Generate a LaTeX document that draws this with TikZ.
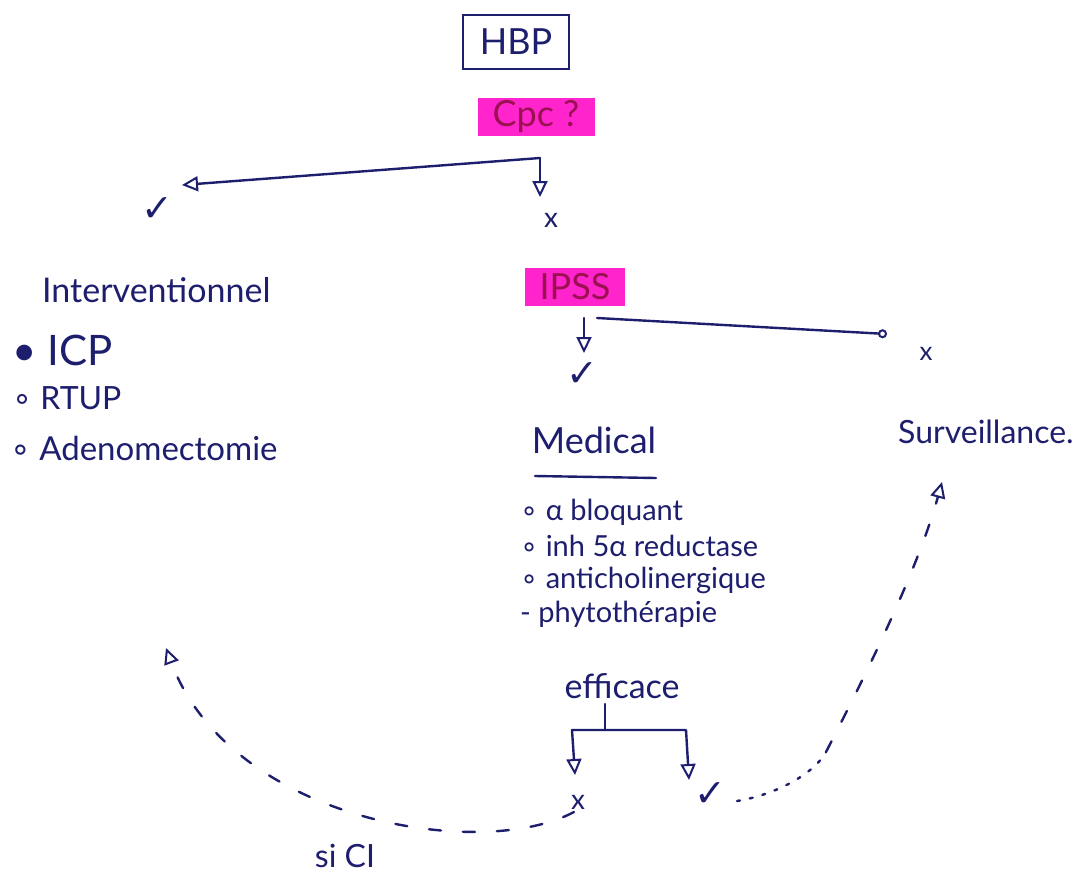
\documentclass[tikz,border=0pt]{standalone}
\usepackage{fontspec}
\setmainfont{Lato}
\newfontfamily\symf{DejaVu Sans}
\usetikzlibrary{arrows.meta}
\definecolor{ink}{HTML}{1E1E6E}
\definecolor{hl}{HTML}{FF24CC}
\definecolor{hltext}{HTML}{9A1050}
\tikzset{
  x=1pt, y=-1pt,
  ink/.style={text=ink, inner sep=2pt},
  fs/.style={font=\fontsize{#1}{#1}\selectfont},
  tick/.style={text=ink, font=\symf\fontsize{38}{38}\selectfont},
  hlbox/.style={fill=hl, text=hltext, font=\fontsize{36}{36}\selectfont, minimum height=38pt, inner sep=1pt},
  conn/.style={draw=ink, line width=2.4pt, line cap=round, line join=round},
  tip/.style={-{Triangle[open, length=16pt, width=15pt, line width=2pt]}},
  dsh/.style={conn, dash pattern=on 12pt off 22pt},
  dts/.style={conn, dash pattern=on 3pt off 10pt},
}
\newcommand{\bul}{{\symf ∘}}
\begin{document}
\begin{tikzpicture}
\useasboundingbox (0,0) rectangle (1077,876);
\fill[white] (0,0) rectangle (1077,876);
% top
\node[ink, draw=ink, line width=2.4pt, minimum width=106pt, minimum height=54pt, fs=36] (hbp) at (516,42) {HBP};
\node[hlbox, minimum width=117pt] (cpc) at (536,117) {Cpc ?};
\coordinate (j1) at (540,158);
\coordinate (t1) at (182,185);
\coordinate (t2) at (540,197);
\draw[conn, tip] (j1) -- (t1);
\draw[conn, tip] (j1) -- (t2);
\node[tick] (ok1) at (157,210) {✓};
\node[ink, fs=28] (no1) at (551,220) {x};
% left branch
\node[ink, fs=34, anchor=west] (interv) at (40,290) {Interventionnel};
\node[ink, fs=42, anchor=west] (icp) at (10,350) {• ICP};
\node[ink, fs=32, anchor=west] (rtup) at (10,398) {\bul\ RTUP};
\node[ink, fs=33, anchor=west] (adeno) at (8,448) {\bul\ Adenomectomie};
% IPSS
\node[hlbox, minimum width=100pt] (ipss) at (575,287) {IPSS};
\coordinate (j2) at (584,318);
\coordinate (j2b) at (597,318);
\coordinate (t3) at (584,353);
\coordinate (c1) at (887,334);
\draw[conn, tip] (j2) -- (t3);
\draw[conn, -{Circle[open, length=9pt, width=9pt, line width=2pt]}] (j2b) -- (c1);
\node[ink, fs=26] (no2) at (926,354) {x};
\node[tick] (ok2) at (582,375) {✓};
% Medical
\node[ink, fs=36] (med) at (594,440) {Medical};
\coordinate (u1) at (535,476);
\coordinate (u2) at (656,478);
\draw[conn] (u1) -- (u2);
\node[ink, fs=29, anchor=west] (m1) at (518,512) {\bul\ α bloquant};
\node[ink, fs=29, anchor=west] (m2) at (518,546) {\bul\ inh 5α reductase};
\node[ink, fs=29, anchor=west] (m3) at (518,580) {\bul\ anticholinergique};
\node[ink, fs=29, anchor=west] (m4) at (518,614) {- phytothérapie};
% Surveillance
\node[ink, fs=32, anchor=west] (surv) at (896,432) {Surveillance.};
% efficace
\node[ink, fs=34] (eff) at (622,686) {efficace};
\coordinate (j3) at (605,704);
\coordinate (j3b) at (605,730);
\coordinate (jl) at (572,730);
\coordinate (jr) at (686,730);
\coordinate (t4) at (575,775);
\coordinate (t5) at (689,780);
\draw[conn] (j3) -- (j3b);
\draw[conn, tip] (jl) -- (j3b) -- (jr) -- (t5);
\draw[conn, tip] (jl) -- (t4);
\node[ink, fs=28] (no3) at (578,802) {x};
\node[tick] (ok3) at (710,795) {✓};
% right loop to Surveillance
\coordinate (r1) at (737,801);
\coordinate (r2) at (826,752);
\coordinate (r3) at (942,482);
\draw[dts] (r1) .. controls (775,795) and (814,774) .. (r2);
\draw[dsh, tip] (r2) .. controls (850,705) and (915,580) .. (r3);
% left loop to Interventionnel
\coordinate (l1) at (574,812);
\coordinate (l2) at (166,648);
\draw[dsh, tip] (l1) .. controls (480,862) and (230,820) .. (l2);
\node[ink, fs=32] (si) at (345,856) {si CI};
\end{tikzpicture}
\end{document}
